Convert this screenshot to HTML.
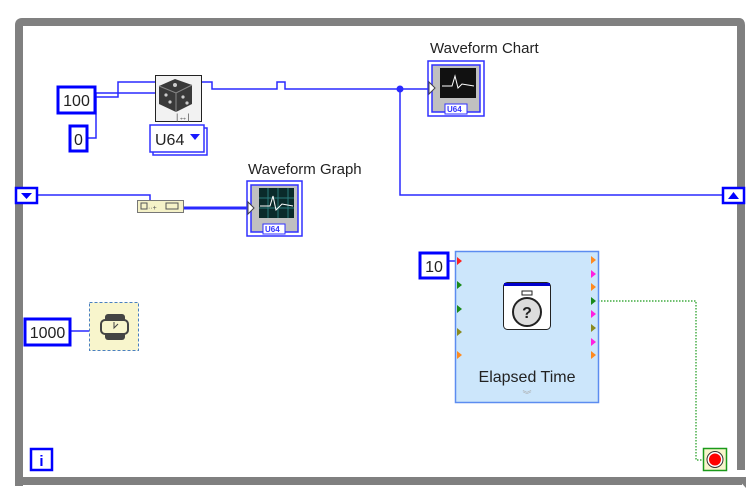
<!DOCTYPE html>
<html><head><meta charset="utf-8"><style>
html,body{margin:0;padding:0;background:#fff;}
svg{display:block;font-family:"Liberation Sans",sans-serif;}
</style></head><body>
<svg width="756" height="498" viewBox="0 0 756 498" xmlns="http://www.w3.org/2000/svg">
<!-- frame -->
<path d="M19 486 V25 Q19 22 22 22 H739 Q741 22 741 25 V470" fill="none" stroke="#808080" stroke-width="8"/>
<path d="M15 481 H742" stroke="#808080" stroke-width="8"/>
<path d="M736 477 L746 477 L746 488 Z" fill="#808080"/>

<!-- wires -->
<g fill="none" stroke="#2a2aff" stroke-width="1.5">
<path d="M95 97 H118 V82 H155"/>
<path d="M87 138 H96 V93 H155"/>
<path d="M202 82 H212 V89 H277 V82 H285 V89 H428"/>
<path d="M400 89 V195 H722"/>
<path d="M38 195 H150 V200"/>
<path d="M70 331 H89"/>
</g>
<path d="M184 208 H247" stroke="#2a2aff" stroke-width="3"/>
<circle cx="400" cy="89" r="3.5" fill="#2a2aff"/>
<path d="M448 261 H456" stroke="#2a2aff" stroke-width="1.5"/>
<path d="M598 301 H696 V460 H703" fill="none" stroke="#1a9a1a" stroke-width="1.2" stroke-dasharray="1.5,1.5"/>

<!-- constants -->
<g font-size="16" fill="#222">
<rect x="58" y="87" width="37" height="26" fill="#fff" stroke="#0000ff" stroke-width="3"/>
<text x="76.5" y="106" text-anchor="middle">100</text>
<rect x="70" y="126" width="17" height="25" fill="#fff" stroke="#0000ff" stroke-width="3"/>
<text x="78.5" y="145" text-anchor="middle">0</text>
<rect x="25" y="319" width="45" height="26" fill="#fff" stroke="#0000ff" stroke-width="3"/>
<text x="47.5" y="338" text-anchor="middle">1000</text>
<rect x="420" y="253" width="28" height="25" fill="#fff" stroke="#0000ff" stroke-width="3"/>
<text x="434" y="272" text-anchor="middle">10</text>
</g>

<!-- dice -->
<rect x="155.5" y="75.5" width="46" height="46" fill="#f2f2f2" stroke="#222" stroke-width="1"/>
<path d="M159 86 L175 79 L192 85 L192 104 L176 112 L159 104 Z" fill="#3a3a3a"/>
<path d="M159 86 L176 93 L192 85 M176 93 V112" stroke="#888" fill="none" stroke-width="1"/>
<circle cx="175" cy="85" r="2" fill="#ccc"/><circle cx="166" cy="95" r="1.6" fill="#ccc"/><circle cx="170" cy="102" r="1.6" fill="#ccc"/><circle cx="183" cy="97" r="1.6" fill="#ccc"/><circle cx="187" cy="103" r="1.6" fill="#ccc"/>
<text x="176" y="120" font-size="9" fill="#555">|↔|</text>
<rect x="153" y="128" width="54" height="27" fill="#fff" stroke="#3030ff" stroke-width="1.5"/>
<rect x="150" y="125" width="54" height="27" fill="#fff" stroke="#3030ff" stroke-width="1.5"/>
<text x="155" y="145" font-size="16" fill="#222">U64</text>
<path d="M190 134 L200 134 L195 140 Z" fill="#1a1aff"/>

<!-- waveform chart -->
<text x="430" y="53" font-size="15" fill="#222">Waveform Chart</text>
<rect x="428" y="61" width="56" height="55" fill="#fff" stroke="#3030ff" stroke-width="1.5"/>
<rect x="432" y="65" width="48" height="47" fill="#c0c0c0" stroke="#3030ff" stroke-width="1.5"/>
<rect x="440" y="68" width="36" height="30" fill="#111"/>
<path d="M442 86 L452 86 L455 76 L458 88 L462 84 L474 86" stroke="#fff" fill="none" stroke-width="1"/>
<rect x="445" y="104" width="22" height="10" fill="#fff" stroke="#3030ff"/>
<text x="447" y="112" font-size="8" fill="#3030ff" font-weight="bold">U64</text>
<path d="M429 82 L435 88 L429 94 Z" fill="#fff" stroke="#444"/>

<!-- waveform graph -->
<text x="248" y="174" font-size="15" fill="#222">Waveform Graph</text>
<rect x="247" y="181" width="55" height="55" fill="#fff" stroke="#3030ff" stroke-width="1.5"/>
<rect x="251" y="185" width="47" height="47" fill="#c0c0c0" stroke="#3030ff" stroke-width="1.5"/>
<rect x="259" y="188" width="35" height="30" fill="#0a2a2a"/>
<path d="M259 198 H294 M259 208 H294 M268 188 V218 M278 188 V218 M288 188 V218" stroke="#2a7a7a" stroke-width="1"/>
<path d="M260 206 L270 206 L273 196 L276 210 L282 204 L293 206" stroke="#fff" fill="none"/>
<rect x="263" y="224" width="22" height="10" fill="#fff" stroke="#3030ff"/>
<text x="265" y="232" font-size="8" fill="#3030ff" font-weight="bold">U64</text>
<path d="M248 202 L254 208 L248 214 Z" fill="#fff" stroke="#444"/>

<!-- bundle -->
<rect x="137.5" y="200.5" width="46" height="12" fill="#f5f2c8" stroke="#777"/>
<rect x="141" y="203" width="6" height="6" fill="none" stroke="#555"/>
<text x="148" y="210" font-size="7" fill="#555">··+</text>
<rect x="166" y="203" width="12" height="6" fill="none" stroke="#555"/>

<!-- shift registers -->
<rect x="16" y="188" width="21" height="15" fill="#fff" stroke="#0000ff" stroke-width="2.5"/>
<path d="M21 193 L32 193 L26.5 199 Z" fill="#0000ff"/>
<rect x="723" y="188" width="21" height="15" fill="#fff" stroke="#0000ff" stroke-width="2.5"/>
<path d="M728 199 L739 199 L733.5 192 Z" fill="#0000ff"/>

<!-- wait -->
<rect x="89.5" y="302.5" width="49" height="48" fill="#f8f5cc" stroke="#4a80c0" stroke-dasharray="3,2"/>
<rect x="105" y="314" width="20" height="26" rx="3" fill="#444"/>
<rect x="101" y="320" width="27" height="14" rx="4" fill="#f8f5cc" stroke="#444" stroke-width="2"/>
<path d="M114 322 L114 328 L118 324" stroke="#444" fill="none"/>

<!-- i terminal -->
<rect x="31" y="449" width="21" height="21" fill="#fff" stroke="#0000ff" stroke-width="2.5"/>
<text x="41.5" y="466" font-size="15" text-anchor="middle" fill="#0000ff" font-weight="bold">i</text>

<!-- elapsed time -->
<rect x="455.5" y="251.5" width="143" height="151" fill="#cce6fb" stroke="#5c8cf0" stroke-width="1.5"/>
<g>
<path d="M457 257 l5 4 l-5 4Z" fill="#ff2020"/>
<path d="M457 281 l5 4 l-5 4Z" fill="#1a8a1a"/>
<path d="M457 305 l5 4 l-5 4Z" fill="#1a8a1a"/>
<path d="M457 328 l5 4 l-5 4Z" fill="#8a8a20"/>
<path d="M457 351 l5 4 l-5 4Z" fill="#ff8a20"/>
<path d="M591 256 l5 4 l-5 4Z" fill="#ff8a20"/>
<path d="M591 270 l5 4 l-5 4Z" fill="#ff20e0"/>
<path d="M591 283 l5 4 l-5 4Z" fill="#ff8a20"/>
<path d="M591 297 l5 4 l-5 4Z" fill="#1a8a1a"/>
<path d="M591 310 l5 4 l-5 4Z" fill="#ff20e0"/>
<path d="M591 324 l5 4 l-5 4Z" fill="#8a8a20"/>
<path d="M591 338 l5 4 l-5 4Z" fill="#ff20e0"/>
<path d="M591 351 l5 4 l-5 4Z" fill="#ff8a20"/>
</g>
<rect x="503.5" y="282.5" width="47" height="47" rx="4" fill="#fff" stroke="#222"/>
<rect x="504" y="283" width="46" height="3" fill="#0000cc"/>
<circle cx="527" cy="312" r="14" fill="#ddd" stroke="#222" stroke-width="2"/>
<rect x="522" y="291" width="10" height="4" fill="none" stroke="#222"/>
<text x="527" y="318" font-size="16" text-anchor="middle" fill="#222" font-weight="bold">?</text>
<text x="527" y="382" font-size="16" text-anchor="middle" fill="#222">Elapsed Time</text>
<text x="527" y="398" font-size="9" text-anchor="middle" fill="#aaa">︾</text>

<!-- stop -->
<rect x="703.5" y="448.5" width="23" height="22" fill="#f8f5cc" stroke="#1a9a1a" stroke-width="1.5"/>
<circle cx="715" cy="459.5" r="8" fill="#fff" stroke="#333"/>
<circle cx="715" cy="459.5" r="6" fill="#ff0000"/>
</svg>
</body></html>
